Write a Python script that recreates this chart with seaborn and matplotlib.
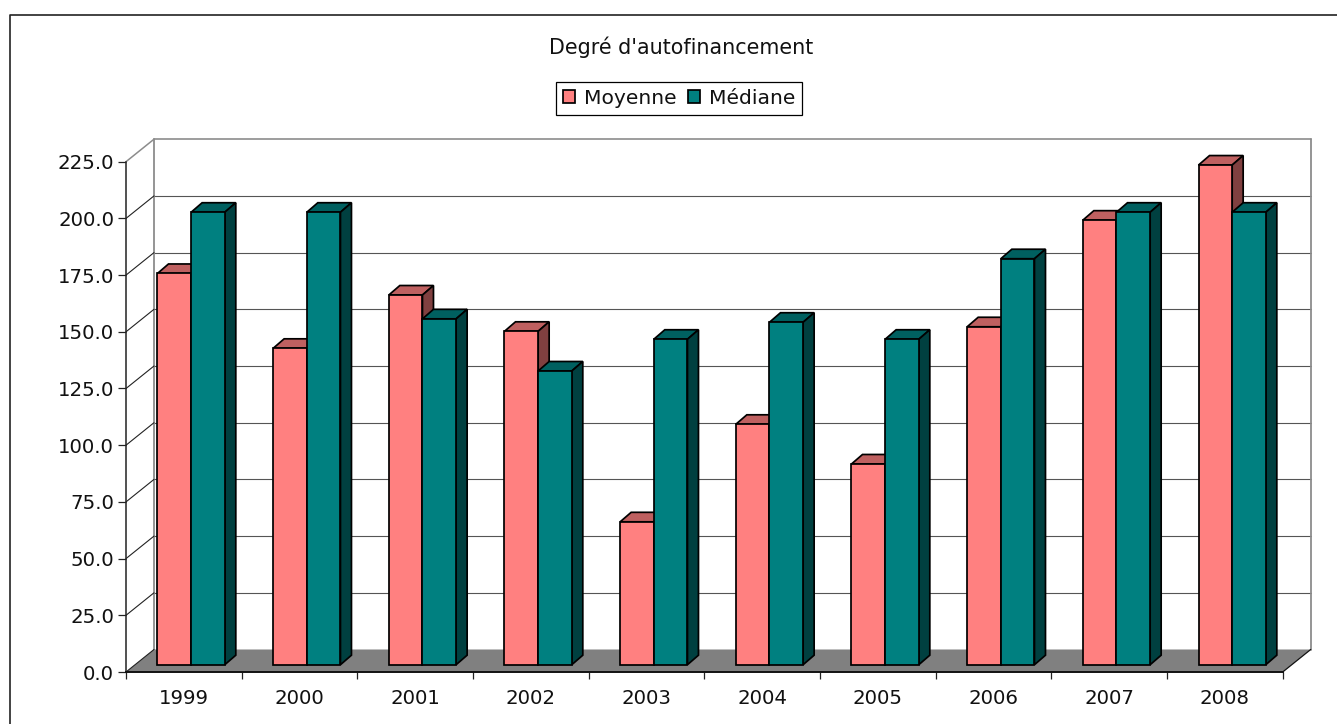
import numpy as np
import pandas as pd
import matplotlib
matplotlib.use("Agg")
import matplotlib.pyplot as plt
from matplotlib.lines import Line2D
from matplotlib.patches import Polygon
from matplotlib.transforms import Affine2D, IdentityTransform
import seaborn as sns

# --- Data ---
years = ["1999", "2000", "2001", "2002", "2003", "2004", "2005", "2006", "2007", "2008"]
moyenne = [172.5, 139.5, 163.0, 147.0, 63.0, 106.0, 88.5, 149.0, 196.0, 220.3]
mediane = [199.5, 199.5, 152.5, 129.5, 143.5, 151.0, 143.5, 179.0, 199.5, 199.5]
y_ticks = [0, 25, 50, 75, 100, 125, 150, 175, 200, 225]

title = "Degré d'autofinancement"

# --- Style ---
W, H = 1337, 724
PINK = "#FF8080"
TEAL = "#008080"
FONT_PT = 14.2
EDGE_LW = 1.25

# 3D offsets in pixels
WALL_DX, WALL_DY = 28, 22.5
BAR_DX, BAR_DY = 7.3, 7.3
DEPTH_DX, DEPTH_DY = 11, 9.5


def shade(color, k):
    rgb = np.array(matplotlib.colors.to_rgb(color))
    return tuple(rgb * k)


df = pd.DataFrame({
    "Année": years * 2,
    "Valeur": moyenne + mediane,
    "Série": ["Moyenne"] * len(years) + ["Médiane"] * len(years),
})

sns.set_style("white")
plt.rcParams["font.family"] = ["DejaVu Sans"]

fig = plt.figure(figsize=(W / 100, H / 100), dpi=100)
ax = fig.add_axes([126 / W, (H - 672) / H, (1282.7 - 126) / W, (672 - 161.7) / H])

sns.barplot(data=df, x="Année", y="Valeur", hue="Série", hue_order=["Moyenne", "Médiane"],
            palette=[PINK, TEAL], saturation=1, width=0.582, gap=0, dodge=True,
            edgecolor="black", linewidth=EDGE_LW, ax=ax)
ax.set_xlim(-0.5, len(years) - 0.5)
ax.set_ylim(0, 225)
ax.set_xlabel("")
ax.set_ylabel("")

# --- Transforms: same data scales, shifted in pixels ---
wall_tf = ax.transData + Affine2D().translate(WALL_DX, WALL_DY)
bar_tf = ax.transData + Affine2D().translate(BAR_DX, BAR_DY)
xmin, xmax = ax.get_xlim()


def add_poly(pts, color, z):
    ax.add_patch(Polygon(pts, closed=True, facecolor=color, edgecolor="black", linewidth=EDGE_LW,
                         transform=IdentityTransform(), clip_on=False, zorder=z))


# --- Floor and walls ---
f0 = ax.transData.transform([(xmin, 0), (xmax, 0)])
f1 = wall_tf.transform([(xmax, 0), (xmin, 0)])
ax.add_patch(Polygon(np.vstack([f0, f1]), closed=True, facecolor="#808080", edgecolor="none",
                     transform=IdentityTransform(), clip_on=False, zorder=1))

for v in y_ticks:
    color = "#8C8C8C" if v == y_ticks[-1] else "#555555"
    ax.plot([xmin, xmax], [v, v], color=color, lw=(1.2 if v == y_ticks[-1] else 0.8) if v else 0,
            transform=wall_tf, clip_on=False, zorder=1.2)
    a = ax.transData.transform((xmin, v))
    b = wall_tf.transform((xmin, v))
    ax.add_line(Line2D([a[0], b[0]], [a[1], b[1]], color=color if v == y_ticks[-1] else "#222222",
                       lw=1.1 if v == y_ticks[-1] else 0.8, transform=IdentityTransform(),
                       clip_on=False, zorder=1.3))

for xv in (xmin, xmax):
    ax.plot([xv, xv], [0, 225], color="#8C8C8C", lw=1.3, transform=wall_tf, clip_on=False, zorder=1.2)

a = ax.transData.transform((xmax, 0))
b = wall_tf.transform((xmax, 0))
ax.add_line(Line2D([a[0], b[0]], [a[1], b[1]], color="#111111", lw=0.9,
                   transform=IdentityTransform(), clip_on=False, zorder=1.3))

# --- Bars: front face from seaborn, top and side faces built on it ---
for s, (container, base) in enumerate(zip(ax.containers, [PINK, TEAL])):
    for i, bar in enumerate(container):
        z = 3 + i + s * 0.5
        x0, w, h = bar.get_x(), bar.get_width(), bar.get_height()
        pts = bar_tf.transform([(x0, 0), (x0 + w, 0), (x0 + w, h), (x0, h)])
        d = np.array([DEPTH_DX, DEPTH_DY])
        add_poly([pts[3], pts[2], pts[2] + d, pts[3] + d], shade(base, 0.75), z)
        add_poly([pts[1], pts[1] + d, pts[2] + d, pts[2]], shade(base, 0.5), z)
        bar.set_transform(bar_tf)
        bar.set_clip_on(False)
        bar.set_zorder(z + 0.1)

# --- Axes, ticks ---
sns.despine(ax=ax)
ax.spines["left"].set_color("#222222")
ax.spines["left"].set_linewidth(1.1)
ax.spines["bottom"].set_color("#111111")
ax.spines["bottom"].set_linewidth(1.4)
ax.spines["left"].set_zorder(2)
ax.spines["bottom"].set_zorder(2)

ax.set_yticks(y_ticks)
ax.set_yticklabels([f"{v:.1f}" for v in y_ticks], fontsize=FONT_PT, color="#111111")
ax.tick_params(axis="y", left=True, length=5.6, width=0.9, pad=3, color="#222222")
ax.set_xticks(np.arange(xmin, xmax + 1))
ax.set_xticklabels([])
ax.set_xticks(np.arange(len(years)), minor=True)
ax.set_xticklabels(years, minor=True, fontsize=FONT_PT, color="#111111")
ax.tick_params(axis="x", which="major", bottom=True, length=5.2, width=0.9, color="#222222")
ax.tick_params(axis="x", which="minor", bottom=False, length=0, pad=12.3)

# --- Title, legend, outer frame ---
fig.text(681.5 / W, 1 - 47.5 / H, title, ha="center", va="center", fontsize=14.9, color="#111111")

sns.move_legend(ax, loc="center", bbox_to_anchor=(679 / W, 1 - 98.5 / H), bbox_transform=fig.transFigure,
                ncol=2, title=None, frameon=True, fancybox=False, edgecolor="black", framealpha=1,
                fontsize=14.6, handlelength=0.62, handleheight=0.62, handletextpad=0.42,
                columnspacing=0.55, borderpad=0.33, borderaxespad=0, labelcolor="#111111")
ax.get_legend().get_frame().set_linewidth(0.9)
ax.get_legend().set_zorder(20)

fig.add_artist(Line2D([10 / W, 10 / W, 1], [0, 1 - 14.7 / H, 1 - 14.7 / H], color="#222222", lw=1.2))

fig.savefig("out.png", dpi=100)
